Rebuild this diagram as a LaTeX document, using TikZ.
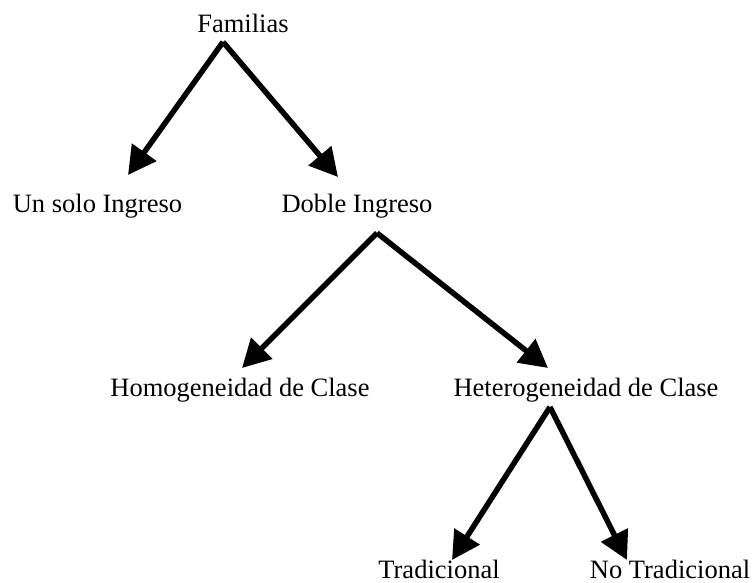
\documentclass[tikz,border=0pt]{standalone}
\usepackage{fontspec}
\setmainfont{Liberation Serif}
\usetikzlibrary{arrows.meta}
\begin{document}
\begin{tikzpicture}[x=1pt,y=-1pt,
    lbl/.style={anchor=base,inner sep=0pt,font=\fontsize{26.5}{30}\selectfont}]
      \useasboundingbox (0,0) rectangle (753,583);
      \draw
        (243,33) node[lbl] (fam){Familias}
        (97.5,212) node[lbl] (solo){Un solo Ingreso}
        (357,212) node[lbl] (doble){Doble Ingreso}
        (240,396) node[lbl] (homo){Homogeneidad de Clase}
        (586,396) node[lbl] (hetero){Heterogeneidad de Clase}
        (439,578) node[lbl] (trad){Tradicional}
        (670,578) node[lbl] (notrad){No Tradicional};
      \begin{scope}[line width=5.5pt,-{Triangle[length=28pt,width=29pt]}]
        \draw ([xshift=-20pt,yshift=-9pt]fam.base) to ([xshift=30.5pt,yshift=37pt]solo.base);
        \draw ([xshift=-20pt,yshift=-9pt]fam.base) to ([xshift=-19pt,yshift=35pt]doble.base);
        \draw ([xshift=20pt,yshift=-21pt]doble.base) to ([xshift=2pt,yshift=28pt]homo.base);
        \draw ([xshift=20pt,yshift=-21pt]doble.base) to ([xshift=-38pt,yshift=28pt]hetero.base);
        \draw ([xshift=-36pt,yshift=-11pt]hetero.base) to ([xshift=13pt,yshift=18pt]trad.base);
        \draw ([xshift=-36pt,yshift=-11pt]hetero.base) to ([xshift=-43pt,yshift=18pt]notrad.base);
      \end{scope}
    \end{tikzpicture}
\end{document}
